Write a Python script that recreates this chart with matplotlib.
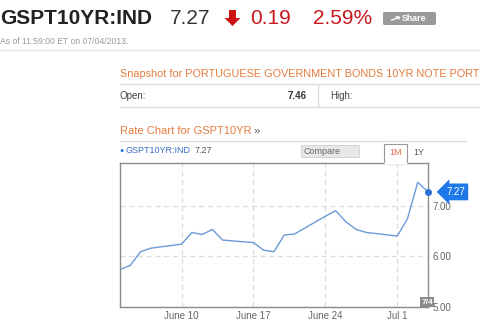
import numpy as np
import pandas as pd
import matplotlib
matplotlib.use('Agg')
import matplotlib.pyplot as plt
from matplotlib.patches import Polygon, Rectangle, FancyBboxPatch, FancyArrow
from matplotlib.lines import Line2D

plt.rcParams['font.family'] = ['Liberation Sans', 'DejaVu Sans']

# values
ticker = 'GSPT10YR:IND'
last_value = 7.27
change = 0.19
pct_change = 2.59
open_value = 7.46
as_of = 'As of 11:59:00 ET on 07/04/2013.'
snapshot_title = 'Snapshot for PORTUGUESE GOVERNMENT BONDS 10YR NOTE PORT'

dates = pd.to_datetime(['2013-06-04', '2013-06-05', '2013-06-06', '2013-06-07',
                        '2013-06-10', '2013-06-11', '2013-06-12', '2013-06-13', '2013-06-14',
                        '2013-06-17', '2013-06-18', '2013-06-19', '2013-06-20', '2013-06-21',
                        '2013-06-24', '2013-06-25', '2013-06-26', '2013-06-27', '2013-06-28',
                        '2013-07-01', '2013-07-02', '2013-07-03', '2013-07-04'])
yields = [5.74, 5.82, 6.09, 6.16,
          6.24, 6.47, 6.43, 6.53, 6.32,
          6.27, 6.12, 6.09, 6.42, 6.44,
          6.79, 6.90, 6.68, 6.53, 6.47,
          6.40, 6.74, 7.46, 7.27]

yticks = [5, 6, 7]
ytick_labels = ['5.00', '6.00', '7.00']
xtick_dates = pd.to_datetime(['2013-06-10', '2013-06-17', '2013-06-24', '2013-07-01'])
xtick_labels = ['June 10', 'June 17', 'June 24', 'Jul 1']

W, H = 480, 321
fig = plt.figure(figsize=(W / 100, H / 100), dpi=100)


def fx(x):
    return x / W


def fy(y):
    return 1 - y / H


orange = '#e47a3c'
red = '#c8171c'
line_grey = '#dddddd'

# ---- header
fig.text(fx(0), fy(19), ticker, fontsize=15, weight='bold', color='#222222', va='center')
fig.text(fx(170), fy(19), f'{last_value:.2f}', fontsize=15, color='#333333', va='center')
arrow = Polygon([(fx(229), fy(10)), (fx(236), fy(10)), (fx(236), fy(18)), (fx(240.5), fy(18)),
                 (fx(232.5), fy(26)), (fx(224.5), fy(18)), (fx(229), fy(18))],
                closed=True, transform=fig.transFigure, fc='#cc1111', ec='none')
fig.patches.append(arrow)
fig.text(fx(250), fy(19), f'{change:.2f}', fontsize=15, color=red, va='center')
fig.text(fx(313), fy(19), f'{pct_change:.2f}%', fontsize=15, color=red, va='center')
share = FancyBboxPatch((fx(383), fy(25)), fx(53), 13 / H, boxstyle='round,pad=0,rounding_size=0.004',
                       transform=fig.transFigure, fc='#9a9a9a', ec='none')
fig.patches.append(share)
share_arrow = FancyArrow(fx(391), fy(20.5), fx(6), 2.5 / H, width=0.004, head_width=0.016,
                         head_length=0.008, transform=fig.transFigure, fc='white', ec='none')
fig.patches.append(share_arrow)
fig.text(fx(402), fy(18.5), 'Share', fontsize=6.3, weight='bold', color='white', va='center')
fig.text(fx(0), fy(41), as_of, fontsize=6.2, color='#999999', va='center')
fig.lines.append(Line2D([0, 1], [fy(50), fy(50)], transform=fig.transFigure, color='#e4e4e4', lw=1))

# ---- snapshot block
fig.text(fx(120), fy(74), snapshot_title, fontsize=7.8, color=orange, va='center')
fig.lines.append(Line2D([fx(120), 1], [fy(84), fy(84)], transform=fig.transFigure, color=line_grey, lw=1))
fig.text(fx(120), fy(96), 'Open:', fontsize=7, color='#444444', va='center')
fig.text(fx(307), fy(96), f'{open_value:.2f}', fontsize=7, weight='bold', color='#333333',
         va='center', ha='right')
fig.lines.append(Line2D([fx(318), fx(318)], [fy(85), fy(107)], transform=fig.transFigure, color=line_grey, lw=1))
fig.text(fx(330), fy(96), 'High:', fontsize=7, color='#444444', va='center')
fig.lines.append(Line2D([fx(120), 1], [fy(107), fy(107)], transform=fig.transFigure, color=line_grey, lw=1))

# ---- rate chart header
fig.text(fx(120), fy(131), 'Rate Chart for GSPT10YR', fontsize=8, color=orange, va='center')
fig.text(fx(253), fy(131), '\u00bb', fontsize=8, color='#555555', va='center')
fig.lines.append(Line2D([fx(120), fx(466)], [fy(141), fy(141)], transform=fig.transFigure, color=line_grey, lw=1))
fig.text(fx(119.5), fy(150.5), '\u25cf', fontsize=5, color='#2b6fd6', va='center')
fig.text(fx(126), fy(150.5), ticker, fontsize=6.5, color='#3b6fc4', va='center')
fig.text(fx(195), fy(150.5), f'{last_value:.2f}', fontsize=6.5, color='#555555', va='center')

cmp_box = Rectangle((fx(301), fy(157)), fx(58), 12 / H, transform=fig.transFigure,
                    fc='#e8e8e8', ec='#d0d0d0', lw=0.6)
fig.patches.append(cmp_box)
fig.text(fx(303.5), fy(151.5), 'Compare', fontsize=6.5, color='#666666', va='center')

# ---- chart
ax = fig.add_axes([fx(120), fy(307), (428 - 120) / W, (307 - 163) / H])
ax.plot(dates, yields, color='#6a9ad8', lw=1)
ax.plot(dates[-1:], yields[-1:], 'o', color='#2a70d8', ms=4, clip_on=False, zorder=5)
ax.set_xlim(pd.Timestamp('2013-06-04'), pd.Timestamp('2013-07-04'))
ax.set_ylim(5, 7.84)
ax.set_yticks(yticks)
ax.set_yticklabels(ytick_labels)
ax.set_xticks(xtick_dates)
ax.set_xticklabels(xtick_labels)
ax.yaxis.tick_right()
ax.tick_params(length=0, labelsize=7, colors='#666666')
ax.tick_params(axis='y', pad=3)
ax.tick_params(axis='x', pad=3)
ax.grid(True, color='#dcdcdc', ls=(0, (4, 3)), lw=0.9)
for s in ax.spines.values():
    s.set_color('#8a8a8a')
    s.set_linewidth(1)

# current value flag
ax.annotate(f'{last_value:.2f}', xy=(dates[-1], yields[-1]), xytext=(13, 0), textcoords='offset points',
            fontsize=7, color='white', va='center', ha='left', annotation_clip=False,
            bbox=dict(boxstyle='larrow,pad=0.35', fc='#1e78ea', ec='none'))

# 1M / 1Y tabs
tab = Rectangle((fx(384), fy(163.5)), fx(23), 20 / H, transform=fig.transFigure,
                fc='white', ec='#999999', lw=0.8, zorder=3)
fig.patches.append(tab)
fig.lines.append(Line2D([fx(384.5), fx(406.5)], [fy(163.5), fy(163.5)], transform=fig.transFigure,
                       color='white', lw=1.2, zorder=4))
fig.text(fx(395.5), fy(152), '1M', fontsize=6.5, color='#e8684a', ha='center', va='center', zorder=5)
fig.text(fx(413), fy(152), '1Y', fontsize=6.5, color='#555555', va='center')

# date flag at bottom
fig.text(fx(427), fy(302), '7/4', fontsize=6, weight='bold', color='white', ha='center', va='center',
         bbox=dict(boxstyle='square,pad=0.15', fc='#8c8c8c', ec='none'))

fig.savefig('out.png', dpi=100)
